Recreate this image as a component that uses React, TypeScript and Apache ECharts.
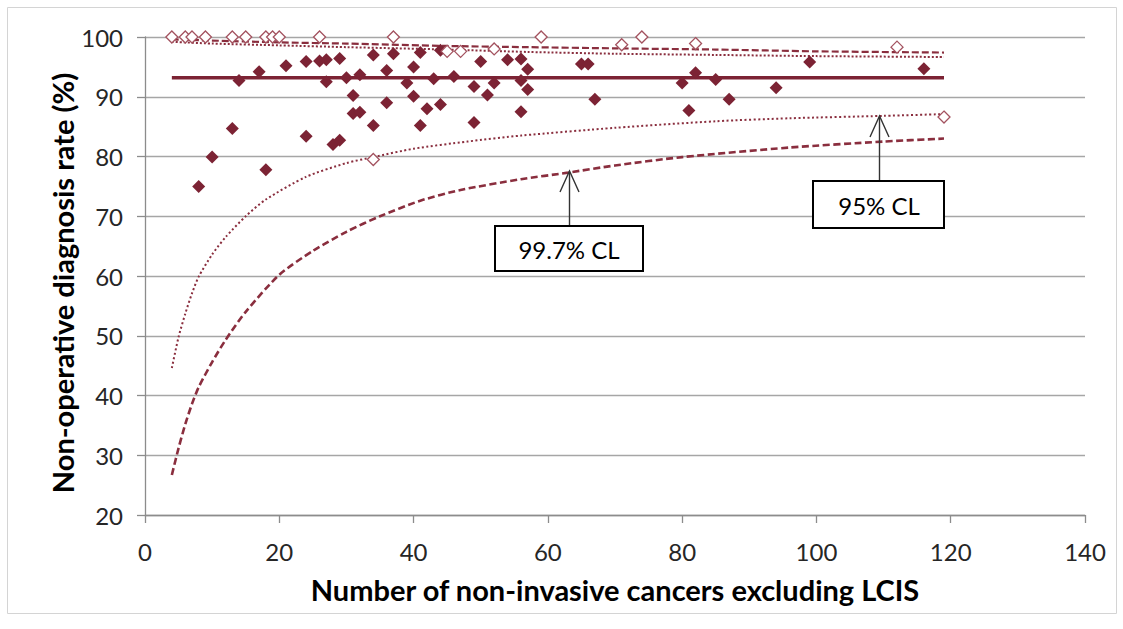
import React, { useEffect, useRef } from "react";
import * as echarts from "echarts";

// ---- data ----
const xTicks = [0, 20, 40, 60, 80, 100, 120, 140];
const yTicks = [20, 30, 40, 50, 60, 70, 80, 90, 100];

const units: number[][] = [
  [8, 75.0], [10, 79.9], [13, 84.7], [14, 92.7], [17, 94.2], [18, 77.8], [21, 95.2],
  [24, 95.9], [24, 83.4], [26, 96.0], [27, 96.2], [27, 92.5], [28, 82.0], [29, 82.7],
  [29, 96.4], [30, 93.2], [31, 90.2], [31, 87.2], [32, 87.4], [32, 93.7], [34, 97.0],
  [34, 85.2], [36, 94.4], [36, 89.0], [37, 97.2], [39, 92.3], [40, 95.0], [40, 90.1],
  [41, 97.4], [41, 85.2], [42, 88.0], [43, 93.0], [44, 88.7], [44, 97.8], [46, 93.4],
  [49, 91.7], [49, 85.7], [50, 95.9], [51, 90.3], [52, 92.3], [54, 96.2], [56, 96.3],
  [56, 87.5], [56, 92.7], [57, 94.6], [57, 91.2], [65, 95.5], [66, 95.5], [67, 89.6],
  [80, 92.3], [81, 87.7], [82, 94.0], [85, 92.9], [87, 89.6], [94, 91.5], [99, 95.8],
  [116, 94.7],
];

const hollowUnits: number[][] = [
  [4, 100], [6, 100], [7, 100], [9, 100], [13, 100], [15, 100], [18, 100], [19, 100],
  [20, 100], [26, 100], [37, 100], [59, 100], [74, 100], [34, 79.5], [45, 97.6],
  [47, 97.6], [52, 98.0], [71, 98.7], [82, 98.9], [112, 98.3], [119, 86.6],
];

const meanRate = 93.2;
const meanRange = [4, 119];

const lower95: number[][] = [
  [4, 44.6], [5, 49.8], [6, 53.7], [7, 57.1], [8, 59.9], [10, 63.6], [12, 66.5], [15, 70.0],
  [18, 72.8], [24, 76.6], [30, 78.9], [34, 79.9], [40, 81.3], [48, 82.5], [56, 83.5],
  [70, 84.8], [85, 85.9], [96, 86.4], [110, 86.8], [119, 87.1],
];
const lower997: number[][] = [
  [4, 26.7], [5, 31.2], [6, 35.2], [7, 38.6], [8, 41.4], [10, 45.6], [12, 49.3], [15, 54.0],
  [20, 60.2], [25, 64.2], [30, 67.4], [35, 70.0], [41, 72.6], [47, 74.4], [56, 76.2],
  [63, 77.3], [70, 78.5], [80, 79.9], [96, 81.5], [110, 82.5], [119, 83.0],
];
const upper997: number[][] = [
  [4, 99.6], [10, 99.4], [20, 99.1], [30, 98.9], [45, 98.5], [57, 98.3], [70, 98.1],
  [85, 97.9], [100, 97.6], [119, 97.4],
];
const upper95: number[][] = [
  [4, 99.2], [10, 98.9], [20, 98.6], [30, 98.3], [45, 97.9], [57, 97.5], [70, 97.2],
  [85, 97.0], [100, 96.8], [119, 96.65],
];

const xTitle = "Number of non-invasive cancers excluding LCIS";
const yTitle = "Non-operative diagnosis rate (%)";
const label997 = "99.7% CL";
const label95 = "95% CL";

const RED = "#7c2334";
const LINE_RED = "#8a2e3e";
const FONT = "Lato, 'Liberation Sans', sans-serif";

export default function App() {
  const ref = useRef<HTMLDivElement>(null);

  useEffect(() => {
    if (!ref.current) return;
    const chart = echarts.init(ref.current, undefined, { renderer: "svg" });
    const lineCommon = {
      type: "line",
      smooth: 0.25,
      symbol: "none",
      z: 2,
    };
    const option: any = {
      animation: false,
      backgroundColor: "#ffffff",
      textStyle: { fontFamily: FONT },
      grid: { left: 145, top: 37, width: 940, height: 478, containLabel: false },
      xAxis: {
        type: "value",
        min: xTicks[0],
        max: xTicks[xTicks.length - 1],
        interval: 20,
        axisLine: { show: true, lineStyle: { color: "#8c8c8c", width: 1.3 } },
        axisTick: { show: true, length: 8, lineStyle: { color: "#8c8c8c", width: 1.3 } },
        splitLine: { show: false },
        axisLabel: { margin: 24, fontSize: 24, color: "#262626", fontFamily: FONT },
      },
      yAxis: {
        type: "value",
        min: yTicks[0],
        max: yTicks[yTicks.length - 1],
        interval: 10,
        axisLine: { show: true, lineStyle: { color: "#8c8c8c", width: 1.3 } },
        axisTick: { show: true, length: 8, lineStyle: { color: "#8c8c8c", width: 1.3 } },
        splitLine: { show: true, lineStyle: { color: "#a6a6a6", width: 1.3 } },
        axisLabel: { margin: 22, fontSize: 24, color: "#262626", fontFamily: FONT },
      },
      series: [
        {
          type: "line",
          name: "mean",
          data: [[meanRange[0], meanRate], [meanRange[1], meanRate]],
          symbol: "none",
          lineStyle: { color: RED, width: 3.5 },
          z: 2,
        },
        {
          ...lineCommon,
          name: "upper 99.7%",
          data: upper997,
          lineStyle: { color: LINE_RED, width: 2.2, type: [7, 3] },
        },
        {
          ...lineCommon,
          name: "upper 95%",
          data: upper95,
          lineStyle: { color: LINE_RED, width: 2, type: [2, 2] },
        },
        {
          ...lineCommon,
          name: "lower 95%",
          data: lower95,
          lineStyle: { color: LINE_RED, width: 2, type: [2, 2.5] },
        },
        {
          ...lineCommon,
          name: "lower 99.7%",
          data: lower997,
          lineStyle: { color: LINE_RED, width: 2.6, type: [7, 3.5] },
        },
        {
          type: "scatter",
          name: "units",
          data: units,
          symbol: "diamond",
          symbolSize: 13,
          itemStyle: { color: RED, opacity: 1 },
          z: 3,
        },
        {
          type: "scatter",
          name: "units hollow",
          data: hollowUnits,
          symbol: "diamond",
          symbolSize: 12,
          clip: false,
          itemStyle: { color: "#ffffff", borderColor: "#a3525f", borderWidth: 1.3, opacity: 1 },
          z: 4,
        },
      ],
      graphic: [
        {
          type: "rect",
          shape: { x: 7.5, y: 7.5, width: 1109, height: 606 },
          style: { fill: "none", stroke: "#d4d4d4", lineWidth: 1 },
          silent: true,
          z: 0,
        },
        {
          type: "text",
          x: 615,
          y: 589,
          style: {
            text: xTitle,
            align: "center",
            verticalAlign: "middle",
            font: `bold 29px ${FONT}`,
            fill: "#000",
          },
        },
        {
          type: "text",
          x: 62,
          y: 283,
          rotation: Math.PI / 2,
          style: {
            text: yTitle,
            align: "center",
            verticalAlign: "middle",
            font: `bold 29px ${FONT}`,
            fill: "#000",
          },
        },
        // 99.7% annotation
        {
          type: "line",
          shape: { x1: 569.5, y1: 226, x2: 569.5, y2: 172 },
          style: { stroke: "#333", lineWidth: 1.4 },
          z: 10,
        },
        {
          type: "polyline",
          shape: { points: [[560, 192], [569.5, 171], [579, 192]] },
          style: { stroke: "#333", lineWidth: 1.4, fill: "none" },
          z: 10,
        },
        {
          type: "rect",
          shape: { x: 495, y: 226, width: 148, height: 45 },
          style: { fill: "#fff", stroke: "#000", lineWidth: 2 },
          z: 10,
        },
        {
          type: "text",
          x: 569,
          y: 249,
          style: {
            text: label997,
            align: "center",
            verticalAlign: "middle",
            font: `24px ${FONT}`,
            fill: "#000",
          },
          z: 11,
        },
        // 95% annotation
        {
          type: "line",
          shape: { x1: 879.5, y1: 181, x2: 879.5, y2: 117 },
          style: { stroke: "#333", lineWidth: 1.4 },
          z: 10,
        },
        {
          type: "polyline",
          shape: { points: [[870, 137], [879.5, 116], [889, 137]] },
          style: { stroke: "#333", lineWidth: 1.4, fill: "none" },
          z: 10,
        },
        {
          type: "rect",
          shape: { x: 813, y: 181, width: 131, height: 47 },
          style: { fill: "#fff", stroke: "#000", lineWidth: 2 },
          z: 10,
        },
        {
          type: "text",
          x: 879,
          y: 205,
          style: {
            text: label95,
            align: "center",
            verticalAlign: "middle",
            font: `24px ${FONT}`,
            fill: "#000",
          },
          z: 11,
        },
      ],
    };
    chart.setOption(option);
    return () => chart.dispose();
  }, []);

  return (
    <div
      ref={ref}
      style={{ position: "fixed", left: 0, top: 0, width: 1123, height: 629, background: "#fff" }}
    />
  );
}
